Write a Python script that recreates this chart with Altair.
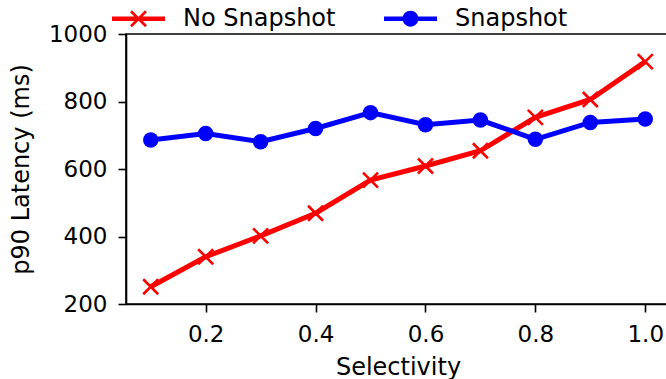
import altair as alt
import pandas as pd

# Query selectivity vs. p90 latency, with and without snapshots
selectivity = [0.1, 0.2, 0.3, 0.4, 0.5, 0.6, 0.7, 0.8, 0.9, 1.0]
no_snapshot_ms = [251, 340, 402, 469, 567, 609, 654, 753, 806, 918]
snapshot_ms = [686, 705, 681, 720, 767, 731, 745, 688, 738, 748]

series_names = ["No Snapshot", "Snapshot"]
series_colors = ["#ff0000", "#0000ff"]

df = pd.DataFrame(
    {
        "sel": selectivity * 2,
        "lat": no_snapshot_ms + snapshot_ms,
        "series": [series_names[0]] * len(selectivity) + [series_names[1]] * len(selectivity),
    }
)

FONT = "DejaVu Sans"

# marker shapes (unit square coordinates, scaled by the symbol size)
X_MARK = "M-1,-1L1,1M-1,1L1,-1"


def _legend_glyphs():
    h = 0.085  # half thickness of the line segment
    a, e = 0.283, 0.034  # x-marker arm extent / half-thickness offset
    r = 0.3  # circle radius
    bar = f"M-1,{-h}H1V{h}H-1Z"
    cross = (
        f"M{-a + e},{-a - e}L{a + e},{a - e}L{a - e},{a + e}L{-a - e},{-a + e}Z"
        f"M{-a + e},{a + e}L{-a - e},{a - e}L{a - e},{-a - e}L{a + e},{-a + e}Z"
    )
    dot = f"M{r},0A{r},{r} 0 1,1 {-r},0A{r},{r} 0 1,1 {r},0Z"
    return [bar + cross, bar + dot]


xs = alt.Scale(domain=[0.055, 1.045], nice=False, zero=False)
ys = alt.Scale(domain=[200, 1000], nice=False, zero=False)

x_enc = alt.X(
    "sel:Q",
    scale=xs,
    axis=alt.Axis(
        values=[0.2, 0.4, 0.6, 0.8, 1.0],
        format=".1f",
        title="Selectivity",
        titleY=51,
        titleBaseline="top",
        grid=False,
    ),
)
y_enc = alt.Y(
    "lat:Q",
    scale=ys,
    axis=alt.Axis(
        values=[200, 400, 600, 800, 1000],
        format="d",
        title="p90 Latency (ms)",
        titleX=-105,
        titleY=135,
        titleBaseline="middle",
        titleAngle=270,
        grid=False,
    ),
)

base = alt.Chart(df)
no_snap = base.transform_filter(alt.datum.series == series_names[0])
snap = base.transform_filter(alt.datum.series == series_names[1])

red_line = no_snap.mark_line(color=series_colors[0], strokeWidth=5).encode(x=x_enc, y=y_enc)
red_marks = no_snap.mark_point(
    shape=X_MARK, filled=False, size=225, strokeWidth=2.6, color=series_colors[0], opacity=1
).encode(x=x_enc, y=y_enc)
blue_line = snap.mark_line(color=series_colors[1], strokeWidth=5).encode(x=x_enc, y=y_enc)
blue_marks = snap.mark_circle(size=240, color=series_colors[1], opacity=1).encode(x=x_enc, y=y_enc)

legend = alt.Legend(
    title="",
    orient="none",
    direction="horizontal",
    legendX=-14,
    legendY=-42,
    symbolSize=2809,
    symbolStrokeWidth=0,
    labelOffset=18,
    columnPadding=48,
    labelFontSize=24,
    labelFont=FONT,
    labelColor="black",
    padding=0,
)
legend_layer = base.transform_filter("false").mark_point(filled=True, opacity=1).encode(
    x=x_enc,
    y=y_enc,
    color=alt.Color("series:N", scale=alt.Scale(domain=series_names, range=series_colors), legend=legend),
    shape=alt.Shape("series:N", scale=alt.Scale(domain=series_names, range=_legend_glyphs()), legend=legend),
)

chart = (
    alt.layer(red_line, red_marks, blue_line, blue_marks, legend_layer)
    .properties(
        width=544,
        height=270,
        # the frame's right edge runs just past the canvas
        padding={"left": 126, "top": 34, "right": -4, "bottom": 75},
        autosize=alt.AutoSizeParams(type="none"),
        background="white",
    )
    .configure_view(stroke="black", strokeWidth=1.6)
    .configure_axis(
        labelFont=FONT,
        titleFont=FONT,
        labelFontSize=23,
        titleFontSize=24,
        titleFontWeight="normal",
        labelColor="black",
        titleColor="black",
        domainColor="black",
        tickColor="black",
        domainWidth=1.6,
        tickWidth=1.6,
        tickSize=8,
        labelPadding=11,
    )
)

chart.save("out.html", embed_options={"renderer": "svg", "actions": False})
